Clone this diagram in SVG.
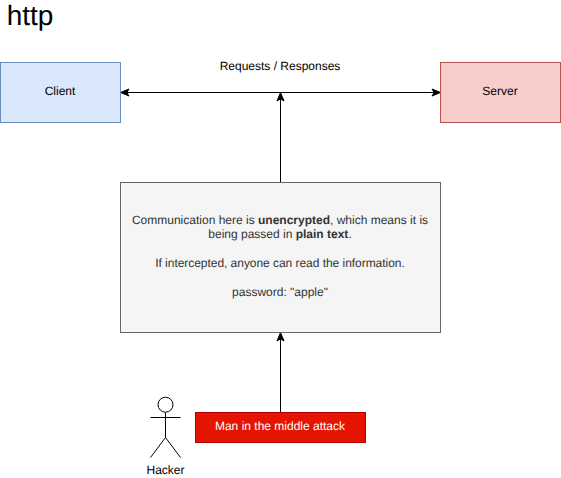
<svg xmlns="http://www.w3.org/2000/svg" width="561" height="478" viewBox="0 0 561 478">
<style>
text{font-family:"Liberation Sans",Arial,Helvetica,sans-serif;font-size:12px;text-anchor:middle;fill:#000;text-rendering:geometricPrecision}
.body text{fill:#333}
.conn{fill:none;stroke:#000;stroke-width:1}
.actor{fill:none;stroke:#000;stroke-width:1}
</style>
<defs>
<path id="h" d="M0 0L-8.500 -3.500L-6.300 0L-8.500 3.500Z" fill="#000" stroke="#000"/>
</defs>
<rect width="561" height="478" fill="#fff"/>
<g id="connectors">
<path class="conn" d="M127 92.500H434"/>
<use href="#h" transform="translate(440.500 92.500)"/>
<use href="#h" transform="translate(120.500 92.500) rotate(180)"/>
<path class="conn" d="M280.500 182.500V99"/>
<use href="#h" transform="translate(280.500 92.500) rotate(-90)"/>
<path class="conn" d="M280.500 412.500V339"/>
<use href="#h" transform="translate(280.500 332.500) rotate(-90)"/>
</g>
<g id="title"><text x="30" y="24.500" style="font-size:28px">http</text></g>
<g id="client"><rect x="0.500" y="62.500" width="120" height="60" fill="#dae8fc" stroke="#6c8ebf"/><text x="60" y="95">Client</text></g>
<g id="server"><rect x="440.500" y="62.500" width="120" height="60" fill="#f8cecc" stroke="#b85450"/><text x="500" y="95">Server</text></g>
<g id="label"><text x="280" y="70">Requests / Responses</text></g>
<g id="info" class="body"><rect x="120.500" y="182.500" width="320" height="150" fill="#f5f5f5" stroke="#666"/>
<text x="280" y="224">Communication here is <tspan font-weight="bold">unencrypted</tspan>, which means it is</text>
<text x="280" y="238">being passed in <tspan font-weight="bold">plain text</tspan>.</text>
<text x="280" y="267" textLength="249.500">If intercepted, anyone can read the information.</text>
<text x="280" y="296">password: "apple"</text></g>
<g id="hacker"><circle class="actor" cx="165.500" cy="404.700" r="7.500"/><path class="actor" d="M165.500 412.500V437.500M150.500 417.500H180.500M165.500 437.500L150.500 457.500M165.500 437.500L180.500 457.500"/><text x="165.500" y="474">Hacker</text></g>
<g id="mitm"><rect x="195.500" y="412.500" width="170" height="30" fill="#e51400" stroke="#b20000"/><text x="280" y="430" style="fill:#fff">Man in the middle attack</text></g>
</svg>
